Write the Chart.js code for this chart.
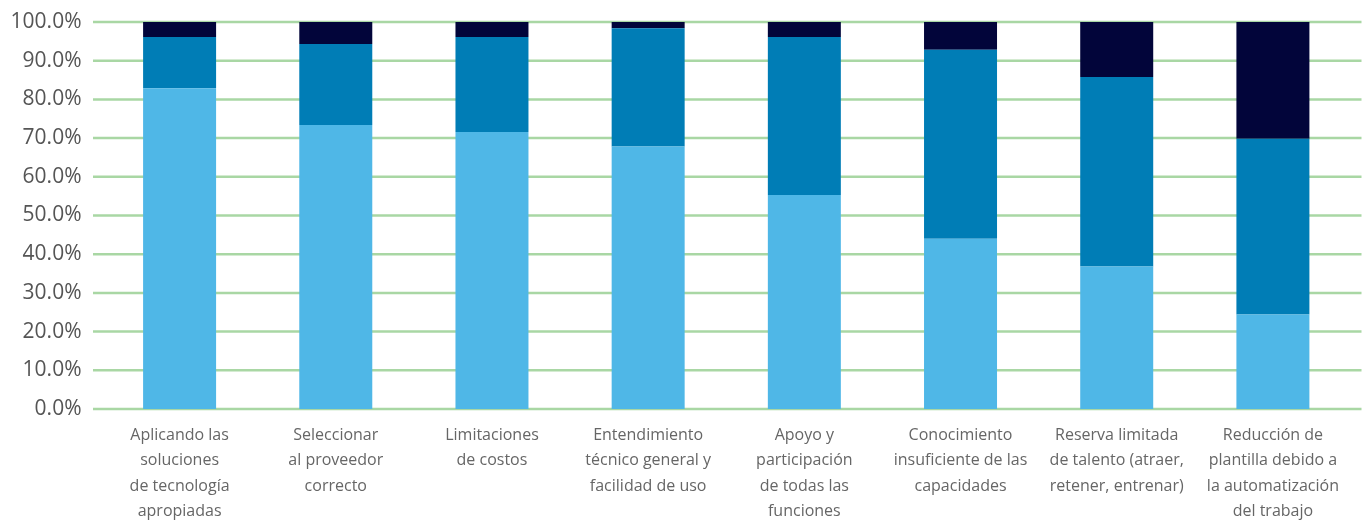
<!DOCTYPE html>
<html>
<head>
<meta charset="utf-8">
<script src="https://cdn.jsdelivr.net/npm/chart.js@4"></script>
<style>
  html, body { margin: 0; padding: 0; background: #fff; }
  #wrap { width: 1364px; height: 520px; }
</style>
</head>
<body>
<div id="wrap"><canvas id="barChart"></canvas></div>
<script>
// Categories (multi-line labels)
const categories = [
    ['Aplicando las', 'soluciones', 'de tecnología', 'apropiadas'],
    ['Seleccionar', 'al proveedor', 'correcto'],
    ['Limitaciones', 'de costos'],
    ['Entendimiento', 'técnico general y', 'facilidad de uso'],
    ['Apoyo y', 'participación', 'de todas las', 'funciones'],
    ['Conocimiento', 'insuficiente de las', 'capacidades'],
    ['Reserva limitada', 'de talento (atraer,', 'retener, entrenar)'],
    ['Reducción de', 'plantilla debido a', 'la automatización', 'del trabajo']
];

// Series values (%), bottom to top
const seriesLow = [82.9, 73.4, 71.6, 67.8, 55.3, 44.0, 36.8, 24.4];
const seriesMid = [13.2, 20.9, 24.5, 30.6, 40.8, 48.8, 49.0, 45.4];
const seriesTop = [3.9, 5.7, 3.9, 1.6, 3.9, 7.2, 14.2, 30.2];

const yMin = 0;
const yMax = 100;
const yStep = 10;

// Horizontal grid lines run a bit past the plot area on both sides
const wideGrid = {
    id: 'wideGrid',
    beforeDatasetsDraw(chart) {
        const y = chart.scales.y;
        const area = chart.chartArea;
        const c = chart.ctx;
        c.save();
        c.strokeStyle = '#A9D7A4';
        c.lineWidth = 2.5;
        y.ticks.forEach(t => {
            const py = y.getPixelForValue(t.value);
            c.beginPath();
            c.moveTo(area.left - 8.5, py);
            c.lineTo(area.right + 10.5, py);
            c.stroke();
        });
        c.restore();
    }
};

document.addEventListener('DOMContentLoaded', function() {
    const ctx = document.getElementById('barChart').getContext('2d');
    new Chart(ctx, {
        type: 'bar',
        data: {
            labels: categories,
            datasets: [
                { data: seriesLow, backgroundColor: '#4FB7E7' },
                { data: seriesMid, backgroundColor: '#007DB6' },
                { data: seriesTop, backgroundColor: '#02053A' }
            ]
        },
        plugins: [wideGrid],
        options: {
            responsive: true,
            maintainAspectRatio: false,
            animation: false,
            datasets: {
                bar: {
                    barPercentage: 0.92,
                    categoryPercentage: 0.508
                }
            },
            layout: {
                padding: { top: 22, right: 13, left: 0, bottom: 0 }
            },
            plugins: {
                legend: { display: false },
                tooltip: { enabled: false }
            },
            scales: {
                x: {
                    stacked: true,
                    afterFit: function(scale) { scale.height = 111; },
                    grid: { display: false },
                    border: { display: false },
                    ticks: {
                        color: '#666',
                        font: { family: 'Open Sans', size: 16, lineHeight: 1.58 },
                        padding: 6,
                        maxRotation: 0,
                        autoSkip: false
                    }
                },
                y: {
                    stacked: true,
                    min: yMin,
                    max: yMax,
                    afterFit: function(scale) {
                        scale.width = 101.5;
                        scale.paddingTop = 0;
                        scale.paddingBottom = 0;
                    },
                    grid: { display: false, drawTicks: false },
                    border: { display: false },
                    ticks: {
                        stepSize: yStep,
                        color: '#555',
                        padding: 20,
                        font: { family: 'Open Sans', size: 21 },
                        callback: function(value) {
                            return value.toFixed(1) + '%';
                        }
                    }
                }
            }
        }
    });
});
</script>
</body>
</html>
